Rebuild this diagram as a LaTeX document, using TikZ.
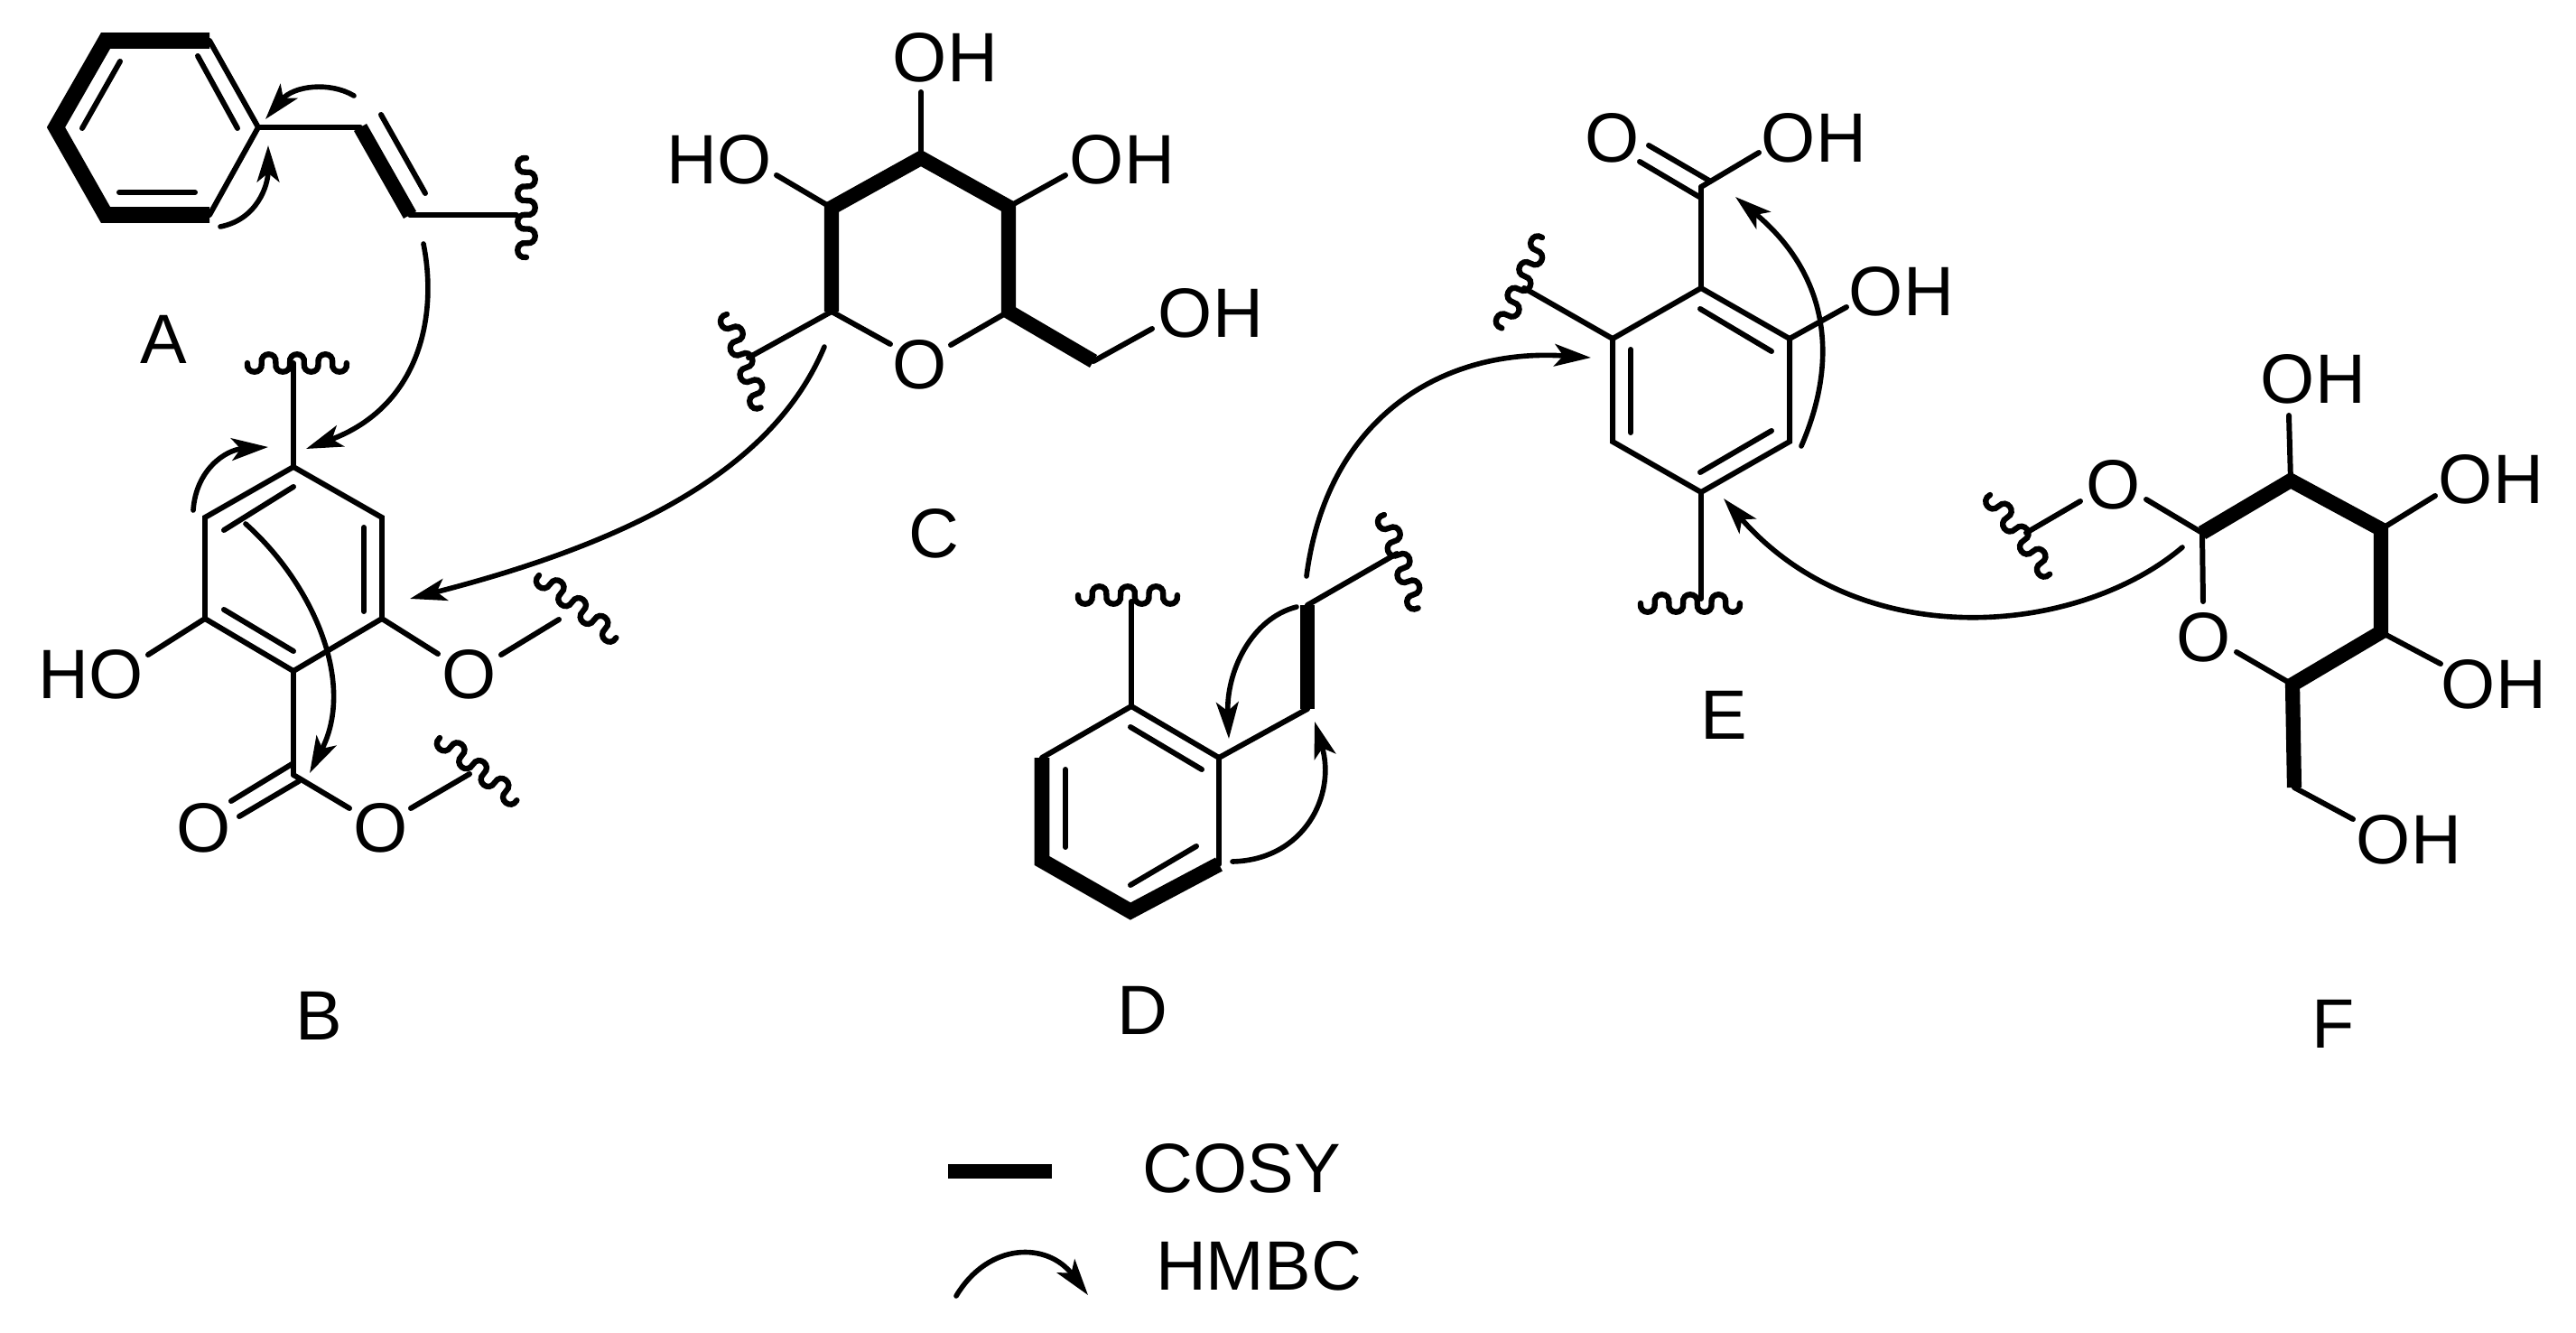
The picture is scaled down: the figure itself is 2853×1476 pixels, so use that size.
\documentclass[tikz,border=0pt]{standalone}
\usepackage{fontspec}
\setmainfont{Liberation Sans}
\usetikzlibrary{arrows.meta}
\tikzset{
  atom/.style={font=\fontsize{22}{24}\selectfont,inner sep=0pt},
  bond/.style={line width=1.7pt,line cap=round},
  cosy/.style={line width=4.6pt,line join=miter},
  wavy/.style={line width=1.8pt,line cap=round},
  hmbc/.style={line width=1.6pt,line cap=round,-{Stealth[length=11.5pt,width=7pt,inset=2.8pt]}},
  squiggle/.pic={
    \draw[wavy] (0,0) .. controls (-2,13) and (17.7,13) .. (15.7,0)
      .. controls (13.7,-13) and (33.4,-13) .. (31.4,0)
      .. controls (29.4,13) and (49.1,13) .. (47.1,0)
      .. controls (45.1,-13) and (64.8,-13) .. (62.8,0)
      .. controls (60.8,13) and (80.5,13) .. (78.5,0)
      .. controls (76.5,-13) and (96.2,-13) .. (94.2,0)
      .. controls (92.2,13) and (111.9,13) .. (109.9,0);
  }
}
\begin{document}
\begin{tikzpicture}[x=.01cm,y=-.01cm]
\useasboundingbox (0,0) rectangle (2853,1476);
\coordinate (a1) at (117,45); \coordinate (a2) at (232,45); \coordinate (a3) at (286,141);
\coordinate (a4) at (232,238); \coordinate (a5) at (117,238); \coordinate (a6) at (62,141);
\coordinate (a7) at (399,141); \coordinate (a8) at (454,238); \coordinate (a9) at (572,238);
\draw[bond] (a2) -- (a3) -- (a4);
\draw[bond] (a3) -- (a7);
\draw[bond] (a8) -- (a9);
\draw[cosy,line width=5pt] (a4) -- (a5) -- (a6) -- (a1) -- (a2);
\draw[cosy] (a7) -- (a8);
\draw[bond] (133,68) -- (91,142);
\draw[bond] (219,62) -- (263,142);
\draw[bond] (132,213) -- (216,213);
\draw[bond] (422,127) -- (471,214);
\pic[rotate=-90] at (583,175) {squiggle};
\node[atom] (labelA) at (181,376) {A};
\draw[hmbc] (392,106) .. controls (365,90) and (325,95) .. (294,132);
\draw[hmbc] (244,251) .. controls (285,243) and (297,205) .. (297,161);
\draw[hmbc] (469,270) .. controls (485,350) and (465,450) .. (339,497);

\coordinate (b1) at (325,517); \coordinate (b2) at (423,573); \coordinate (b3) at (423,685);
\coordinate (b4) at (325,743); \coordinate (b5) at (227,685); \coordinate (b6) at (227,573);
\coordinate (b7) at (325,858);
\node[atom] (bHO) at (101,747) {HO};
\node[atom] (bO) at (520,747) {O};
\node[atom] (bO2) at (226,917) {O};
\node[atom] (bO3) at (422,917) {O};
\draw[bond] (b1) -- (b2) -- (b3) -- (b4) -- (b5) -- (b6) -- cycle;
\draw[bond] (b1) -- (325,402);
\pic at (274,402) {squiggle};
\draw[bond] (325,539) -- (248,587);
\draw[bond] (403,584) -- (403,677);
\draw[bond] (248,675) -- (325,721);
\draw[bond] (b5) -- (164,725);
\draw[bond] (b3) -- (485,724);
\draw[bond] (555,725) -- (619,686);
\pic[rotate=-39] at (597,637) {squiggle};
\draw[bond] (b4) -- (b7);
\draw[bond] (325,845) -- (256,887);
\draw[bond] (331,865) -- (265,904);
\draw[bond] (b7) -- (387,895);
\draw[bond] (455,895) -- (520,857);
\pic[rotate=-39] at (487,817) {squiggle};
\node[atom] (labelB) at (353,1125) {B};
\draw[hmbc] (214,565) .. controls (217,520) and (250,498) .. (297,495);
\draw[hmbc] (272,580) .. controls (345,645) and (395,755) .. (343,856);

\coordinate (c1) at (1020,175); \coordinate (c2) at (1117,229); \coordinate (c3) at (1117,345);
\coordinate (c4) at (921,345); \coordinate (c5) at (921,230); \coordinate (c6) at (1211,400);
\node[atom] (cO) at (1019,404) {O};
\node[atom] (cOH1) at (1047,64) {OH};
\node[atom] (cHO) at (797,177) {HO};
\node[atom] (cOH2) at (1243,177) {OH};
\node[atom] (cOH3) at (1341,347) {OH};
\draw[bond] (c1) -- (1020,102);
\draw[bond] (c5) -- (860,194);
\draw[bond] (c2) -- (1180,194);
\draw[bond] (c4) -- (986,381);
\draw[bond] (c3) -- (1053,382);
\draw[bond] (c6) -- (1276,364);
\draw[bond] (c4) -- (829,396);
\draw[cosy] (c4) -- (c5) -- (c1) -- (c2) -- (c3) -- (c6);
\pic[rotate=-70] at (805,348) {squiggle};
\node[atom] (labelC) at (1034,591) {C};
\draw[hmbc] (913,384) .. controls (860,510) and (720,595) .. (454,663);

\coordinate (d1) at (1253,782); \coordinate (d2) at (1350,839); \coordinate (d3) at (1350,957);
\coordinate (d4) at (1252,1009); \coordinate (d5) at (1154,953); \coordinate (d6) at (1154,839);
\coordinate (d7) at (1448,785); \coordinate (d8) at (1448,670);
\draw[bond] (d6) -- (d1) -- (d2) -- (d3);
\draw[bond] (d1) -- (1253,666);
\draw[bond] (d2) -- (d7);
\draw[bond] (d8) -- (1547,613);
\draw[cosy,line width=4.8pt] (d6) -- (d5) -- (d4) -- (d3);
\draw[cosy,line width=4.8pt] (d7) -- (d8);
\draw[bond] (1180,852) -- (1180,938);
\draw[bond] (1252,805) -- (1331,852);
\draw[bond] (1252,980) -- (1325,937);
\pic at (1194,659) {squiggle};
\pic[rotate=-70] at (1533,570) {squiggle};
\node[atom] (labelD) at (1265,1119) {D};
\draw[hmbc] (1436,672) .. controls (1385,685) and (1358,745) .. (1361,818);
\draw[hmbc] (1365,954) .. controls (1445,952) and (1480,880) .. (1456,799);
\draw[hmbc] (1447,638) .. controls (1470,460) and (1600,385) .. (1762,396);

\coordinate (e1) at (1884,319); \coordinate (e2) at (1982,375); \coordinate (e3) at (1982,489);
\coordinate (e4) at (1884,545); \coordinate (e5) at (1786,489); \coordinate (e6) at (1786,375);
\coordinate (e7) at (1884,207);
\node[atom] (eO) at (1786,153) {O};
\node[atom] (eOH1) at (2009,153) {OH};
\node[atom] (eOH2) at (2106,323) {OH};
\draw[bond] (e1) -- (e2) -- (e3) -- (e4) -- (e5) -- (e6) -- cycle;
\draw[bond] (1806,387) -- (1806,479);
\draw[bond] (1883,342) -- (1962,389);
\draw[bond] (1883,523) -- (1962,477);
\draw[bond] (e1) -- (e7);
\draw[bond] (1893,200) -- (1826,161);
\draw[bond] (1882,218) -- (1816,179);
\draw[bond] (e7) -- (1948,169);
\draw[bond] (e2) -- (2045,340);
\draw[bond] (e4) -- (1884,663);
\draw[bond] (e6) -- (1688,319);
\pic at (1817,668) {squiggle};
\pic[rotate=-114] at (1708,263) {squiggle};
\node[atom] (labelE) at (1909,792) {E};
\draw[hmbc] (1995,494) .. controls (2040,390) and (2020,300) .. (1922,218);
\draw[hmbc] (2417,606) .. controls (2300,705) and (2060,725) .. (1909,552);

\coordinate (f1) at (2439,590); \coordinate (f2) at (2537,532); \coordinate (f3) at (2637,586);
\coordinate (f4) at (2637,700); \coordinate (f5) at (2539,758); \coordinate (f6) at (2541,872);
\node[atom] (fO) at (2441,706) {O};
\node[atom] (fO2) at (2341,537) {O};
\node[atom] (fOH1) at (2562,420) {OH};
\node[atom] (fOH2) at (2759,531) {OH};
\node[atom] (fOH3) at (2762,758) {OH};
\node[atom] (fOH4) at (2668,930) {OH};
\draw[bond] (f1) -- (2440,666);
\draw[bond] (f5) -- (2477,722);
\draw[bond] (f1) -- (2377,553);
\draw[bond] (2304,555) -- (2244,590);
\draw[bond] (f2) -- (2535,460);
\draw[bond] (f3) -- (2697,549);
\draw[bond] (f4) -- (2703,735);
\draw[bond] (f6) -- (2606,907);
\draw[cosy] (f1) -- (f2) -- (f3) -- (f4) -- (f5) -- (f6);
\pic[rotate=-53] at (2204,548) {squiggle};
\node[atom] (labelF) at (2584,1134) {F};

\coordinate (cosyL) at (1050,1297); \coordinate (cosyR) at (1165,1297);
\draw[cosy,line width=4.8pt] (cosyL) -- (cosyR);
\node[atom] (cosyText) at (1375,1294) {COSY};
\draw[hmbc] (1059,1435) .. controls (1095,1375) and (1160,1375) .. (1205,1434);
\node[atom] (hmbcText) at (1394,1402) {HMBC};
\end{tikzpicture}
\end{document}
